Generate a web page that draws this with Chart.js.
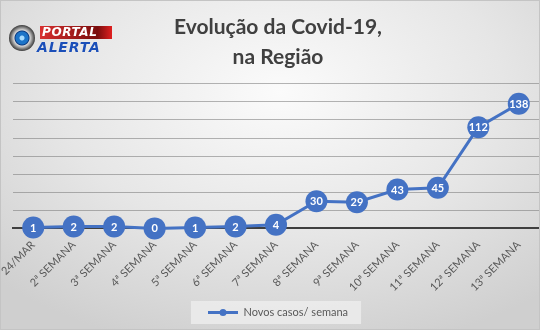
<!DOCTYPE html>
<html>
<head>
<meta charset="utf-8">
<script src="https://cdn.jsdelivr.net/npm/chart.js@4"></script>
<style>
  html, body { margin: 0; padding: 0; overflow: hidden; }
  body {
    width: 540px; height: 330px; position: relative;
    background: radial-gradient(ellipse 75% 80% at 52% 28%, #fbfbfb 0%, #e6e6e6 55%, #cfcfcf 100%);
  }
  #frame { position: absolute; left: 0; top: 0; width: 538px; height: 328px; border: 1px solid #c4c4c4; pointer-events: none; }
  #chart { position: absolute; left: 0; top: 0; }
  .logo { position: absolute; left: 8px; top: 24px; width: 106px; height: 40px; font-family: "DejaVu Sans", sans-serif; }
  .logo .eye {
    position: absolute; left: 1px; top: 1px; width: 26px; height: 26px; border-radius: 50%;
    background: radial-gradient(circle at 50% 50%, #a8dcff 0 2px, #1c74c8 3px 6px, #0b3a80 7px, #d8d8d8 8px, #777 11px, #3b3b3b 13px);
  }
  .logo .portal {
    position: absolute; left: 32px; top: 2px; width: 70px; height: 13px;
    background: linear-gradient(90deg, #d83030, #7a0d0d 80%, #e02020);
    color: #fff; font-weight: bold; font-style: italic; font-size: 12px; line-height: 13px; letter-spacing: 0.6px;
    padding-left: 2px;
  }
  .logo .alerta {
    position: absolute; left: 29px; top: 16px; color: #1b4fb8; font-weight: bold; font-style: italic;
    font-size: 14px; line-height: 14px; letter-spacing: 0.8px; text-shadow: 0 0 1px #fff;
  }
</style>
</head>
<body>
<canvas id="chart" width="550" height="330"></canvas>
<div class="logo">
  <div class="eye"></div>
  <div class="portal">PORTAL</div>
  <div class="alerta">ALERTA</div>
</div>
<div id="frame"></div>
<script>
  const titleLines = ["Evolução da Covid-19,", "na Região"];
  const seriesName = "Novos casos/ semana";
  const weeks = ["24/MAR", "2ª SEMANA", "3ª SEMANA", "4ª SEMANA", "5ª SEMANA", "6ª SEMANA", "7ª SEMANA",
    "8ª SEMANA", "9ª SEMANA", "10ª SEMANA", "11ª SEMANA", "12ª SEMANA", "13ª SEMANA"];
  const newCases = [1, 2, 2, 0, 1, 2, 4, 30, 29, 43, 45, 112, 138];
  const yMin = 0, yMax = 160, yStep = 20;

  const blue = "#4472C4";

  // little line+dot sample for the legend
  let sample = document.createElement("canvas");
  sample.width = 30; sample.height = 9;
  let sctx = sample.getContext("2d");
  sctx.strokeStyle = blue; sctx.lineWidth = 3;
  sctx.beginPath(); sctx.moveTo(0, 4.5); sctx.lineTo(30, 4.5); sctx.stroke();
  sctx.fillStyle = blue;
  sctx.beginPath(); sctx.arc(15, 4.5, 3.5, 0, Math.PI * 2); sctx.fill();

  // white value inside each marker
  const valueLabels = {
    id: "valueLabels",
    afterDatasetsDraw(chart) {
      let ctx = chart.ctx;
      let meta = chart.getDatasetMeta(0);
      ctx.save();
      ctx.font = "bold 11px Lato";
      ctx.fillStyle = "#ffffff";
      ctx.textAlign = "center";
      ctx.textBaseline = "middle";
      meta.data.forEach(function(pt, i) {
        ctx.fillText(String(chart.data.datasets[0].data[i]), pt.x, pt.y + 0.5);
      });
      ctx.restore();
    }
  };

  // light box behind the legend
  const legendBox = {
    id: "legendBox",
    beforeDraw(chart) {
      let boxes = chart.legend && chart.legend.legendHitBoxes;
      if (!boxes || !boxes.length) return;
      let b = boxes[0];
      let ctx = chart.ctx;
      ctx.save();
      ctx.fillStyle = "rgba(235,235,235,0.9)";
      ctx.fillRect(b.left - 17, b.top - 6, b.width + 30, b.height + 12);
      ctx.restore();
    }
  };

  let ctx = document.getElementById("chart").getContext("2d");
  new Chart(ctx, {
    type: "line",
    data: {
      labels: weeks,
      datasets: [{
        label: seriesName,
        data: newCases,
        borderColor: blue,
        backgroundColor: blue,
        borderWidth: 3,
        pointRadius: 11,
        pointBorderWidth: 0,
        pointBackgroundColor: blue,
        tension: 0,
        clip: false
      }]
    },
    options: {
      responsive: false,
      animation: false,
      layout: { padding: { left: 13, right: 7, top: 0, bottom: 2 } },
      plugins: {
        title: {
          display: true,
          text: titleLines,
          color: "#404040",
          font: { family: "Lato", size: 21, weight: "bold", lineHeight: 1.4 },
          padding: { top: 13, bottom: 12 }
        },
        legend: {
          display: true,
          position: "bottom",
          labels: {
            usePointStyle: true,
            pointStyle: sample,
            pointStyleWidth: 30,
            generateLabels: function(chart) {
              return [{ text: seriesName, pointStyle: sample, fillStyle: blue, strokeStyle: blue, lineWidth: 0, datasetIndex: 0, fontColor: "#595959" }];
            },
            color: "#595959",
            font: { family: "Lato", size: 11 },
            padding: 8
          }
        },
        tooltip: { enabled: false }
      },
      scales: {
        x: {
          offset: true,
          grid: { display: false },
          border: { display: true, color: "#3f3f3f", width: 2 },
          afterFit: function(scale) { scale.height = scale.height + 3; },
          ticks: {
            color: "#595959",
            font: { family: "Lato", size: 11 },
            minRotation: 45, maxRotation: 45,
            autoSkip: false,
            padding: 2
          }
        },
        y: {
          min: yMin, max: yMax,
          ticks: { display: false, stepSize: yStep },
          border: { display: false },
          grid: {
            drawTicks: false,
            color: function(c) { return c.tick && c.tick.value === 0 ? "#3f3f3f" : "rgba(120,120,120,0.55)"; },
            lineWidth: function(c) { return c.tick && c.tick.value === 0 ? 2 : 1; }
          }
        }
      }
    },
    plugins: [legendBox, valueLabels]
  });
</script>
</body>
</html>
